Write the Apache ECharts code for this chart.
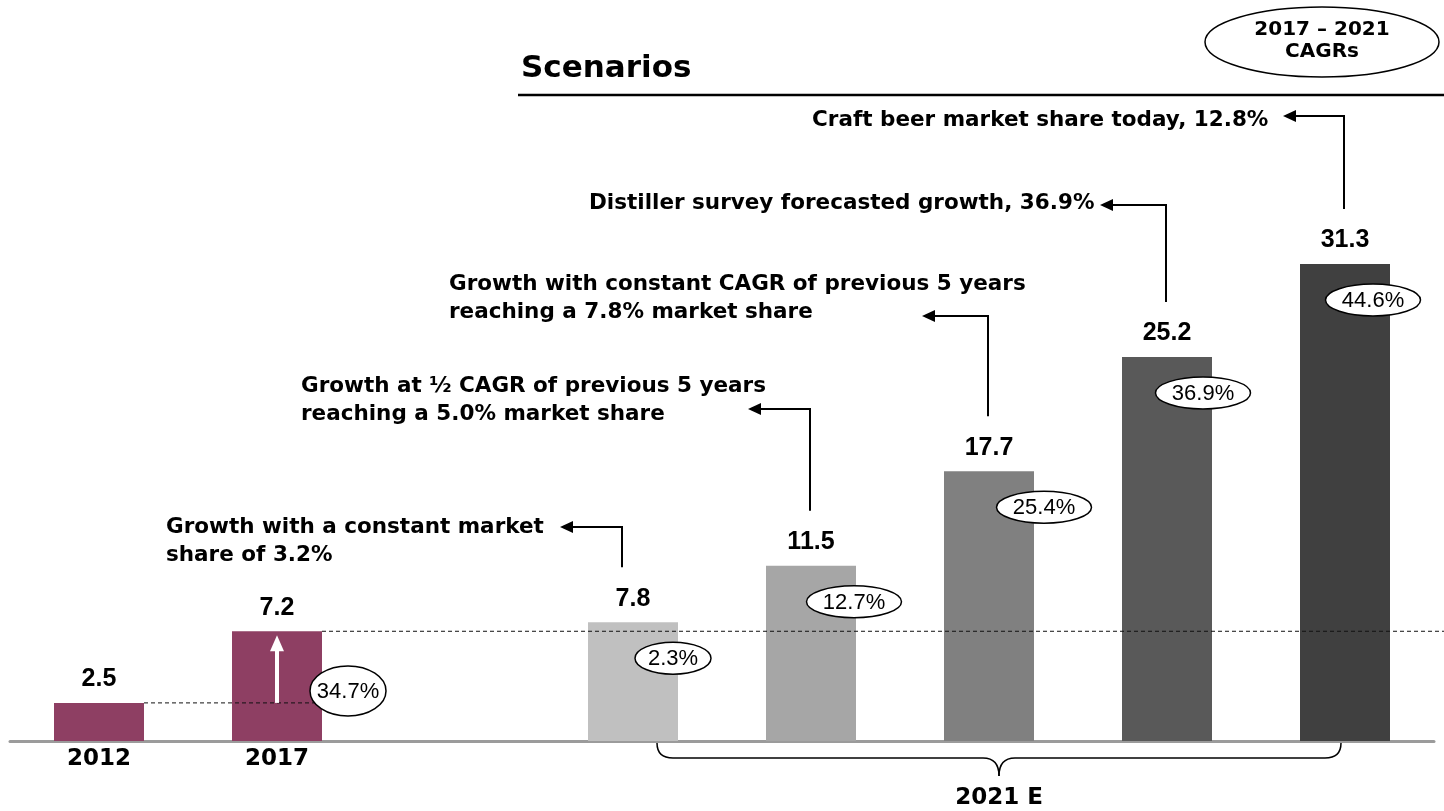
<!DOCTYPE html>
<html>
<head>
<meta charset="utf-8">
<script src="https://cdn.jsdelivr.net/npm/echarts@6/dist/echarts.min.js"></script>
<style>html,body{margin:0;padding:0;background:#fff;}#c{width:1444px;height:811px;}</style>
</head>
<body>
<div id="c"></div>
<script>
// ---- data ----
const categories = ['2012', '2017', '', 'Scenario 1', 'Scenario 2', 'Scenario 3', 'Scenario 4', 'Scenario 5'];
const axisLabels = ['2012', '2017', '', '', '', '', '', ''];
const values = [2.5, 7.2, null, 7.8, 11.5, 17.7, 25.2, 31.3];
const cagrLabels = [null, '34.7%', null, '2.3%', '12.7%', '25.4%', '36.9%', '44.6%'];
const scenarioText = [
  'Growth with a constant market\nshare of 3.2%',
  'Growth at \u00BD CAGR of previous 5 years\nreaching a 5.0% market share',
  'Growth with constant CAGR of previous 5 years\nreaching a 7.8% market share',
  'Distiller survey forecasted growth, 36.9%',
  'Craft beer market share today, 12.8%'
];
const scenarioIndex = [3, 4, 5, 6, 7];
const titleText = 'Scenarios';
const cagrHeader = '2017 \u2013 2021\nCAGRs';
const groupLabel = '2021 E';

// ---- styles / layout ----
const barColors = ['#8E3F63', '#8E3F63', null, '#C0C0C0', '#A6A6A6', '#808080', '#595959', '#404040'];
const annLayout = [ // text left/top, arrow horizontal y, arrow tip x
  {tx: 166, ty: 513, hy: 527, tip: 560},
  {tx: 301, ty: 372, hy: 409, tip: 748},
  {tx: 449, ty: 270, hy: 316, tip: 922},
  {tx: 589, ty: 189, hy: 205, tip: 1100},
  {tx: 812, ty: 106, hy: 116, tip: 1283}
];
const cagrDx = [0, 71, 0, 40, 43, 55, 36, 28];

const BOLD = 'bold 21.5px "DejaVu Sans"';

const chart = echarts.init(document.getElementById('c'));
chart.setOption({
  animation: false,
  grid: {left: 10, right: 10, top: 264, bottom: 70},
  xAxis: {
    type: 'category',
    data: categories,
    axisLine: {lineStyle: {color: '#9B9B9B', width: 3}},
    axisTick: {show: false},
    axisLabel: {
      formatter: (v, i) => axisLabels[i],
      color: '#000', fontFamily: 'DejaVu Sans', fontWeight: 'bold', fontSize: 23, margin: 7
    }
  },
  yAxis: {type: 'value', min: 0, max: 31.3, show: false, splitLine: {show: false}},
  series: [{
    type: 'bar',
    barWidth: 90,
    data: values.map((v, i) => ({value: v, itemStyle: {color: barColors[i]}})),
    label: {
      show: true, position: 'top', distance: 11,
      color: '#000', fontFamily: 'Liberation Sans', fontWeight: 'bold', fontSize: 25,
      formatter: p => p.value == null ? '' : String(p.value)
    }
  }]
});

const px = (i, v) => chart.convertToPixel({seriesIndex: 0}, [i, v]);
const g = [];
const black = '#000';

// title + underline
g.push({type: 'text', z: 10, style: {text: titleText, x: 521, y: 69, verticalAlign: 'middle', font: 'bold 31px "DejaVu Sans"', fill: black}});
g.push({type: 'line', z: 10, shape: {x1: 518, y1: 95, x2: 1444, y2: 95}, style: {stroke: black, lineWidth: 2.5}});
// CAGR header ellipse
g.push({type: 'ellipse', z: 10, shape: {cx: 1322, cy: 42, rx: 117, ry: 35}, style: {fill: '#fff', stroke: black, lineWidth: 1.5}});
g.push({type: 'text', z: 11, style: {text: cagrHeader, x: 1322, y: 41, align: 'center', verticalAlign: 'middle', font: 'bold 20px "DejaVu Sans"', lineHeight: 22, fill: black}});

// dashed reference lines
const p2012 = px(0, values[0]);
const p2017 = px(1, values[1]);
const halfBar = 45;
g.push({type: 'line', z: 20, shape: {x1: p2012[0] + halfBar, y1: p2012[1], x2: p2017[0] + 38, y2: p2012[1]}, style: {stroke: '#111', lineWidth: 1, lineDash: [4, 3]}});
g.push({type: 'line', z: 20, shape: {x1: p2017[0] + halfBar, y1: p2017[1], x2: 1444, y2: p2017[1]}, style: {stroke: '#111', lineWidth: 1, lineDash: [4, 3]}});

// white arrow inside 2017 bar
g.push({type: 'line', z: 21, shape: {x1: p2017[0], y1: p2012[1], x2: p2017[0], y2: p2017[1] + 18}, style: {stroke: '#fff', lineWidth: 4}});
g.push({type: 'polygon', z: 21, shape: {points: [[p2017[0], p2017[1] + 4], [p2017[0] - 7, p2017[1] + 20], [p2017[0] + 7, p2017[1] + 20]]}, style: {fill: '#fff'}});

// CAGR ellipses
cagrLabels.forEach((t, i) => {
  if (!t) return;
  const p = px(i, values[i]);
  let cx = p[0] + cagrDx[i];
  let cy = p[1] + 36;
  let rx = t.length * 9.5, ry = 16;
  if (i === 1) { cy = p2012[1] - 12; rx = 38; ry = 25; }
  g.push({type: 'ellipse', z: 30, shape: {cx, cy, rx, ry}, style: {fill: '#fff', stroke: black, lineWidth: 1.5}});
  g.push({type: 'text', z: 31, style: {text: t, x: cx, y: cy + 1, align: 'center', verticalAlign: 'middle', font: '22px "Liberation Sans"', fill: black}});
});

// scenario annotations with arrows
scenarioIndex.forEach((ci, k) => {
  const L = annLayout[k];
  const p = px(ci, values[ci]);
  const x = p[0] - (k === 0 ? 11 : 1);
  const bottom = p[1] - 55;
  g.push({type: 'text', z: 10, style: {text: scenarioText[k], x: L.tx, y: L.ty, verticalAlign: 'top', font: BOLD, lineHeight: 28, fill: black}});
  g.push({type: 'polyline', z: 10, shape: {points: [[x, bottom], [x, L.hy], [L.tip + 10, L.hy]]}, style: {stroke: black, lineWidth: 2, fill: null}});
  g.push({type: 'polygon', z: 10, shape: {points: [[L.tip, L.hy], [L.tip + 13, L.hy - 6], [L.tip + 13, L.hy + 6]]}, style: {fill: black}});
});

// bracket under scenarios
const pl = px(3, 0), pr = px(7, 0);
const Lx = pl[0] + 24, Rx = pr[0] - 4, Mx = (Lx + Rx) / 2;
const y0 = pl[1] + 2, y1 = y0 + 15, y2 = y0 + 33;
const bs = {stroke: black, lineWidth: 1.5, fill: null};
g.push({type: 'bezierCurve', shape: {x1: Lx, y1: y0, x2: Lx + 16, y2: y1, cpx1: Lx, cpy1: y1}, style: bs});
g.push({type: 'line', shape: {x1: Lx + 16, y1: y1, x2: Mx - 16, y2: y1}, style: bs});
g.push({type: 'bezierCurve', shape: {x1: Mx - 16, y1: y1, x2: Mx, y2: y2, cpx1: Mx, cpy1: y1}, style: bs});
g.push({type: 'bezierCurve', shape: {x1: Mx, y1: y2, x2: Mx + 16, y2: y1, cpx1: Mx, cpy1: y1}, style: bs});
g.push({type: 'line', shape: {x1: Mx + 16, y1: y1, x2: Rx - 16, y2: y1}, style: bs});
g.push({type: 'bezierCurve', shape: {x1: Rx - 16, y1: y1, x2: Rx, y2: y0, cpx1: Rx, cpy1: y1}, style: bs});
g.push({type: 'text', style: {text: groupLabel, x: Mx, y: 798, align: 'center', verticalAlign: 'middle', font: 'bold 23px "DejaVu Sans"', fill: black}});

chart.setOption({graphic: g});
</script>
</body>
</html>
